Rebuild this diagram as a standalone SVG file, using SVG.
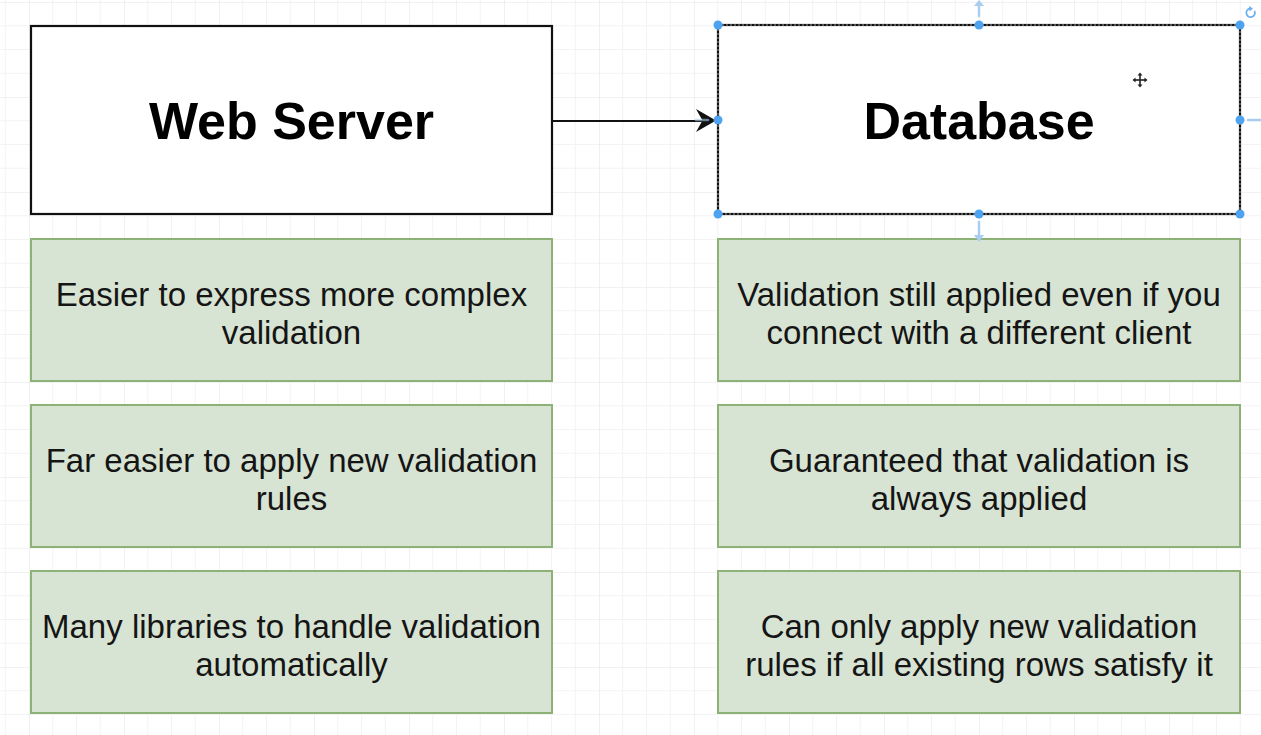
<svg xmlns="http://www.w3.org/2000/svg" width="1261" height="735" viewBox="0 0 1261 735">
  <defs>
    <!-- editor grid: minor step 23.75, major every 4 steps -->
    <pattern id="grid" x="29" y="2" width="95" height="95" patternUnits="userSpaceOnUse">
      <rect width="95" height="95" fill="#ffffff"/>
      <path d="M23.75 0V95M47.5 0V95M71.25 0V95M0 23.75H95M0 47.5H95M0 71.25H95" stroke="#f3f3f3" stroke-width="1" fill="none"/>
      <path d="M0 0V95M0 0H95" stroke="#e6e6e6" stroke-width="1.2" fill="none"/>
    </pattern>
    <style>
      .title { font-family: "Liberation Sans", Arial, Helvetica, sans-serif; font-weight: bold; font-size: 52px; fill: #000; text-anchor: middle; }
      .body { font-family: "Liberation Sans", Arial, Helvetica, sans-serif; font-size: 33px; fill: #151515; text-anchor: middle; }
      .server { fill: #ffffff; stroke: #111; stroke-width: 2.2; }
      .note { fill: #d8e4d3; stroke: #8db276; stroke-width: 2; }
      .handle { fill: #4da3ef; }
      .hint { fill: none; stroke: #a9cdf0; stroke-width: 2.5; stroke-linecap: round; }
      .hint-head { fill: #a9cdf0; }
    </style>
  </defs>

  <rect width="1261" height="735" fill="url(#grid)"/>

  <!-- connectors -->
  <g id="connectors">
    <path d="M553 121H704" stroke="#111" stroke-width="2.2" fill="none"/>
    <path d="M716 120.5L696 109L702.5 120.5L696 132Z" fill="#111"/>
  </g>

  <!-- upper row -->
  <g id="web-server">
    <rect class="server" x="31" y="26" width="521" height="188"/>
    <text class="title" x="291.5" y="139">Web Server</text>
  </g>

  <g id="database">
    <rect class="server" x="718" y="25" width="522" height="189"/>
    <rect x="718" y="25" width="522" height="189" fill="none" stroke="#9c9c9c" stroke-width="1" stroke-dasharray="2 2"/>
    <text class="title" x="979" y="139">Database</text>
  </g>

  <!-- left column notes -->
  <g id="ws-note-1">
    <rect class="note" x="31" y="239" width="521" height="142"/>
    <text class="body" x="291.5" y="306">Easier to express more complex</text>
    <text class="body" x="291.5" y="344">validation</text>
  </g>
  <g id="ws-note-2">
    <rect class="note" x="31" y="405" width="521" height="142"/>
    <text class="body" x="291.5" y="472">Far easier to apply new validation</text>
    <text class="body" x="291.5" y="510">rules</text>
  </g>
  <g id="ws-note-3">
    <rect class="note" x="31" y="571" width="521" height="142"/>
    <text class="body" x="291.5" y="638">Many libraries to handle validation</text>
    <text class="body" x="291.5" y="676">automatically</text>
  </g>

  <!-- right column notes -->
  <g id="db-note-1">
    <rect class="note" x="718" y="239" width="522" height="142"/>
    <text class="body" x="979" y="306">Validation still applied even if you</text>
    <text class="body" x="979" y="344">connect with a different client</text>
  </g>
  <g id="db-note-2">
    <rect class="note" x="718" y="405" width="522" height="142"/>
    <text class="body" x="979" y="472">Guaranteed that validation is</text>
    <text class="body" x="979" y="510">always applied</text>
  </g>
  <g id="db-note-3">
    <rect class="note" x="718" y="571" width="522" height="142"/>
    <text class="body" x="979" y="638">Can only apply new validation</text>
    <text class="body" x="979" y="676">rules if all existing rows satisfy it</text>
  </g>

  <!-- selection overlay on the database shape -->
  <g id="selection">
    <path class="hint" d="M979 16V3"/>
    <path class="hint-head" d="M979 0L974 6H984Z"/>
    <path class="hint" d="M979 222V236"/>
    <path class="hint-head" d="M979 242L974 235H984Z"/>
    <path class="hint" d="M1248 120H1261"/>
    <path class="hint" d="M696 120H708" stroke-width="3" opacity="0.6"/>
    <circle class="handle" cx="718" cy="25" r="4.5"/>
    <circle class="handle" cx="979" cy="25" r="4.5"/>
    <circle class="handle" cx="1240" cy="25" r="4.5"/>
    <circle class="handle" cx="718" cy="120" r="4.5"/>
    <circle class="handle" cx="1240" cy="120" r="4.5"/>
    <circle class="handle" cx="718" cy="214" r="4.5"/>
    <circle class="handle" cx="979" cy="214" r="4.5"/>
    <circle class="handle" cx="1240" cy="214" r="4.5"/>
    <!-- rotate handle -->
    <path d="M1254.5 11A4.3 4.3 0 1 1 1250.5 8.5" fill="none" stroke="#6fb0ee" stroke-width="1.8"/>
    <path d="M1249 6L1253 8.5L1249.5 11.5Z" fill="#6fb0ee"/>
  </g>

  <!-- move cursor -->
  <g id="cursor" fill="#222">
    <rect x="1139.2" y="74" width="1.6" height="12"/>
    <rect x="1134" y="79.2" width="12" height="1.6"/>
    <path d="M1140 72.5L1137.5 75.5H1142.5Z M1140 87.5L1137.5 84.5H1142.5Z M1132.5 80L1135.5 77.5V82.5Z M1147.5 80L1144.5 77.5V82.5Z"/>
  </g>
</svg>
